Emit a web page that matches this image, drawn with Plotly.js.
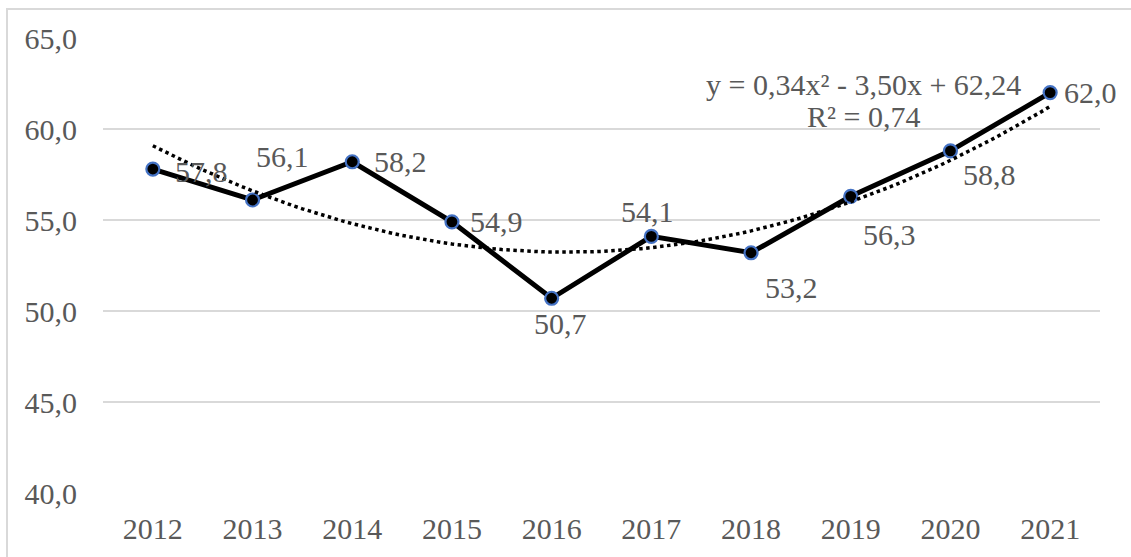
<!DOCTYPE html>
<html>
<head>
<meta charset="utf-8">
<script src="https://cdn.plot.ly/plotly-3.0.1.min.js"></script>
<style>
  html, body { margin: 0; padding: 0; background: #ffffff; }
  #chart { width: 1131px; height: 557px; position: absolute; left: 0; top: 0; }
  #frame { position: absolute; left: 6px; top: 8px; width: 1200px; height: 600px;
           border-left: 2px solid #d9d9d9; border-top: 2px solid #d9d9d9; pointer-events: none; }
</style>
</head>
<body>
<div id="chart"></div>
<div id="frame"></div>
<script>
// ---- data ----
const years = ['2012','2013','2014','2015','2016','2017','2018','2019','2020','2021'];
const values = [57.8, 56.1, 58.2, 54.9, 50.7, 54.1, 53.2, 56.3, 58.8, 62.0];
const trendCoef = [0.34, -3.50, 62.24]; // y = a x^2 + b x + c, x = 1..10
const yTickVals = [40, 45, 50, 55, 60, 65];
const equationLines = ['y = 0,34x² - 3,50x + 62,24', 'R² = 0,74'];

// ---- label placement (style, not data) ----
const labelShift = [
  [49, -2], [30, 43], [48, 0], [45, 0], [9, -25],
  [-4, 25], [40, -35], [39, -38], [39, -24], [40, 0]
];

const xIdx = years.map((_, i) => i + 1);
const trendX = [], trendY = [];
for (let k = 0; k <= 90; k++) {
  const x = 1 + k * 0.1;
  trendX.push(x);
  trendY.push(trendCoef[0] * x * x + trendCoef[1] * x + trendCoef[2]);
}

const fmt = v => v.toFixed(1).replace('.', ',');
const textColor = '#595959';
const font = { family: '"Liberation Serif", "Times New Roman", serif', size: 30, color: textColor };

const traces = [
  {
    x: xIdx, y: values, type: 'scatter', mode: 'lines+markers',
    line: { color: '#000000', width: 5 },
    marker: { size: 13, color: '#000000', line: { color: '#4472C4', width: 2.2 } },
    hoverinfo: 'skip', showlegend: false
  },
  {
    x: trendX, y: trendY, type: 'scatter', mode: 'lines',
    line: { color: '#000000', width: 3.5, dash: 'dot' },
    hoverinfo: 'skip', showlegend: false
  }
];

const annotations = values.map((v, i) => ({
  x: xIdx[i], y: v, xref: 'x', yref: 'y', text: fmt(v), showarrow: false,
  xshift: labelShift[i][0], yshift: labelShift[i][1], font: font
}));
annotations.push({
  x: 0.763, y: 0.897, xref: 'paper', yref: 'paper', text: equationLines[0],
  showarrow: false, font: font, xanchor: 'center', yanchor: 'middle'
});
annotations.push({
  x: 0.763, y: 0.828, xref: 'paper', yref: 'paper', text: equationLines[1],
  showarrow: false, font: font, xanchor: 'center', yanchor: 'middle'
});

const layout = {
  width: 1131, height: 557,
  margin: { l: 103, r: 31, t: 38, b: 64 },
  paper_bgcolor: '#ffffff', plot_bgcolor: '#ffffff',
  font: font,
  xaxis: {
    range: [0.5, 10.5], tickmode: 'array', tickvals: xIdx, ticktext: years,
    showgrid: false, zeroline: false, showline: false, ticks: '',
    ticklabelstandoff: 15, tickfont: font, fixedrange: true
  },
  yaxis: {
    range: [40, 65], tickmode: 'array', tickvals: yTickVals,
    ticktext: yTickVals.map(fmt),
    showgrid: true, gridcolor: '#d9d9d9', gridwidth: 1.5, zeroline: false,
    showline: false, ticks: '', ticklabelstandoff: 25, tickfont: font, fixedrange: true
  },
  annotations: annotations,
  showlegend: false
};

Plotly.newPlot('chart', traces, layout, { displayModeBar: false, staticPlot: true });
</script>
</body>
</html>
